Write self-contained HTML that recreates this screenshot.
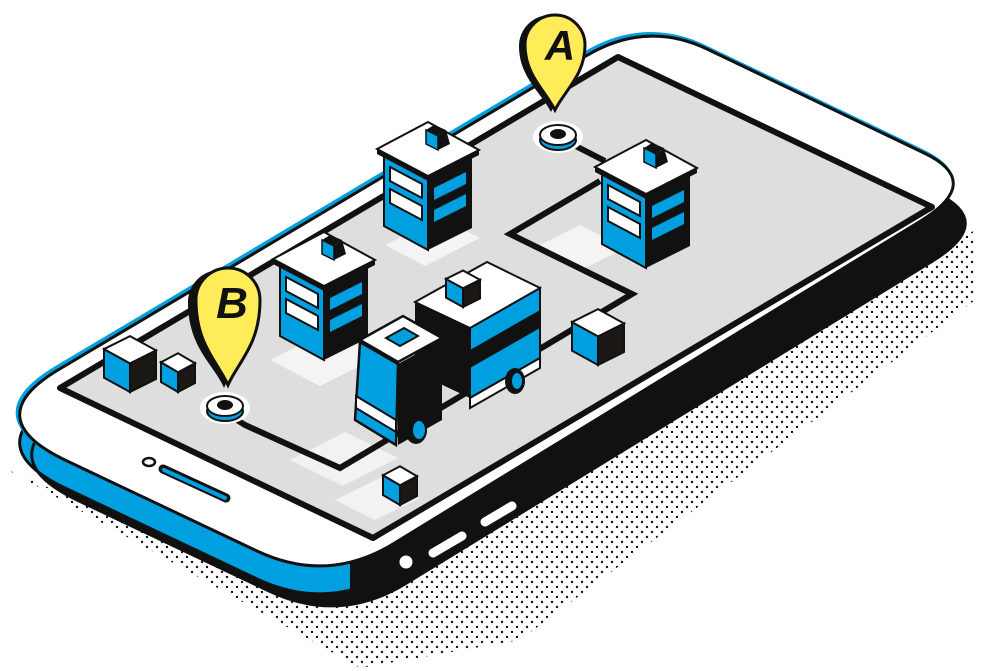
<!DOCTYPE html>
<html><head><meta charset="utf-8"><style>html,body{margin:0;padding:0;background:#fff}svg{display:block}</style></head>
<body>
<svg width="1000" height="671" viewBox="0 0 1000 671" xmlns="http://www.w3.org/2000/svg">
<defs>
<pattern id="dots" width="10" height="10" patternUnits="userSpaceOnUse"><circle cx="2" cy="2" r="1.2" fill="#111"/><circle cx="7" cy="7" r="1.2" fill="#111"/></pattern>
<path id="face" d="M58,370 L586,56 Q646,20 707,49 L924,153 Q985,182 919,222 L393,544 Q327,584 257,551 L65,460 Q-22,418 58,370 Z"/>
<clipPath id="leftc"><rect x="0" y="0" width="350" height="671"/></clipPath>
<g id="bld">
 <polygon points="0,0 -44,-24 -44,-96 0,-72" fill="#009fe0" stroke="#111" stroke-width="2"/>
 <polygon points="0,0 44,-22 44,-94 0,-72" fill="#111"/>
 <polygon points="-38,-83 -6,-66 -6,-52 -38,-69" fill="#fff" stroke="#111" stroke-width="2"/>
 <polygon points="-38,-61 -6,-44 -6,-30 -38,-47" fill="#fff" stroke="#111" stroke-width="2"/>
 <polygon points="6,-62 38,-78 38,-66 6,-50" fill="#009fe0"/>
 <polygon points="6,-40 38,-56 38,-44 6,-28" fill="#009fe0"/>
 <polygon points="0,-74 -51,-101 -51,-96 0,-69 51,-95 51,-100" fill="#111"/>
 <polygon points="0,-74 -51,-101 0,-128 51,-100" fill="#fff" stroke="#111" stroke-width="2"/>
 <polygon points="10,-100 -2,-106 -2,-120 10,-114" fill="#009fe0" stroke="#111" stroke-width="1.5"/>
 <polygon points="10,-100 22,-106 18,-120 10,-114" fill="#111"/>
 <polygon points="10,-114 -2,-120 6,-125 18,-120" fill="#111"/>
</g>
<g id="cube">
 <polygon points="0,0 -1,-0.55 -1,-1.65 0,-1.1" fill="#009fe0" stroke="#111" stroke-width="2" vector-effect="non-scaling-stroke"/>
 <polygon points="0,0 1,-0.5 1,-1.6 0,-1.1" fill="#1a1714" stroke="#111" stroke-width="2" vector-effect="non-scaling-stroke"/>
 <polygon points="0,-1.1 -1,-1.65 0,-2.15 1,-1.6" fill="#fff" stroke="#111" stroke-width="2" vector-effect="non-scaling-stroke"/>
</g>
</defs>

<polygon points="8,470 360,668 520,640 975,300 975,230 330,610" fill="url(#dots)"/>

<use href="#face" transform="translate(12,40)" fill="#111"/>
<g clip-path="url(#leftc)"><use href="#face" transform="translate(0,28)" fill="#009fe0" stroke="#111" stroke-width="3"/></g>
<use href="#face" transform="translate(12,40)" fill="none" stroke="#111" stroke-width="3"/>
<use href="#face" transform="translate(-2,-2)" fill="none" stroke="#009fe0" stroke-width="4"/>
<use href="#face" fill="#fff" stroke="#111" stroke-width="3"/>

<line x1="433" y1="553" x2="462" y2="536" stroke="#111" stroke-width="16" stroke-linecap="round"/>
<line x1="433" y1="553" x2="462" y2="536" stroke="#fff" stroke-width="9" stroke-linecap="round"/>
<line x1="485" y1="522" x2="512" y2="506" stroke="#111" stroke-width="16" stroke-linecap="round"/>
<line x1="485" y1="522" x2="512" y2="506" stroke="#fff" stroke-width="9" stroke-linecap="round"/>
<circle cx="406" cy="562" r="8" fill="#fff" stroke="#111" stroke-width="3"/>

<ellipse cx="149" cy="462" rx="6" ry="4" fill="#fff" stroke="#111" stroke-width="2.5"/>
<line x1="163" y1="469" x2="226" y2="498" stroke="#111" stroke-width="9" stroke-linecap="round"/>
<line x1="164" y1="470" x2="225" y2="498" stroke="#009fe0" stroke-width="4" stroke-linecap="round"/>

<polygon points="618,57 932,207 373,538 60,388" fill="#dedede" stroke="#111" stroke-width="6" stroke-linejoin="round"/>

<polygon points="290,460 345,432 398,458 343,486" fill="#f2f2f2"/>
<polygon points="335,500 380,478 420,498 375,520" fill="#f2f2f2"/>
<polygon points="540,245 580,225 625,248 585,268" fill="#f4f4f4"/>
<polygon points="270,360 330,330 380,356 320,386" fill="#f4f4f4"/>
<polygon points="385,245 440,218 480,238 425,266" fill="#f4f4f4"/>

<polyline points="558,137 605,161" fill="none" stroke="#111" stroke-width="6"/>
<polyline points="600,181 510,234 632,294 340,468 245,425 226,413" fill="none" stroke="#111" stroke-width="6" stroke-linejoin="miter"/>

<ellipse cx="558" cy="137" rx="25" ry="16" fill="#fff"/>
<ellipse cx="558" cy="140" rx="18" ry="10" fill="#009fe0" stroke="#111" stroke-width="2"/>
<ellipse cx="558" cy="135" rx="18" ry="10" fill="#fff" stroke="#111" stroke-width="2"/>
<ellipse cx="558" cy="134" rx="8" ry="5" fill="#111"/>
<ellipse cx="225" cy="408" rx="25" ry="16" fill="#fff"/>
<ellipse cx="225" cy="411" rx="18" ry="10" fill="#009fe0" stroke="#111" stroke-width="2"/>
<ellipse cx="225" cy="406" rx="18" ry="10" fill="#fff" stroke="#111" stroke-width="2"/>
<ellipse cx="225" cy="405" rx="8" ry="5" fill="#111"/>

<use href="#cube" transform="translate(130,392) scale(26,26)"/>
<use href="#cube" transform="translate(178,392) scale(17,18)"/>
<use href="#cube" transform="translate(400,505) scale(17,18)"/>
<use href="#cube" transform="translate(598,365) scale(26,26)"/>

<use href="#bld" transform="translate(428,250)"/>
<use href="#bld" transform="translate(646,268)"/>
<use href="#bld" transform="translate(324,360)"/>

<polygon points="470,328 540,288 540,358 470,398" fill="#009fe0" stroke="#111" stroke-width="2"/>
<polygon points="470,350 540,310 540,328 470,368" fill="#111"/>
<polygon points="415,302 470,328 470,398 415,372" fill="#111"/>
<polygon points="415,302 487,262 540,288 470,328" fill="#fff" stroke="#111" stroke-width="2"/>
<polygon points="470,398 540,358 540,368 470,408" fill="#fff" stroke="#111" stroke-width="2"/>
<use href="#cube" transform="translate(463,307) scale(17,17)"/>
<ellipse cx="515" cy="381" rx="10" ry="13" fill="#111"/>
<ellipse cx="517" cy="381" rx="6" ry="9" fill="#009fe0" stroke="#111" stroke-width="2"/>
<polygon points="398,364 442,340 442,420 398,445" fill="#111"/>
<polygon points="360,342 398,364 396,445 355,420" fill="#009fe0" stroke="#111" stroke-width="2.5"/>
<polygon points="356,396 396,420 396,432 356,408" fill="#fff" stroke="#111" stroke-width="2"/>
<polygon points="360,340 403,316 442,338 398,362" fill="#fff" stroke="#111" stroke-width="2.5"/>
<polygon points="386,338 404,328 418,336 400,346" fill="#009fe0" stroke="#111" stroke-width="2"/>
<ellipse cx="416" cy="430" rx="11" ry="14" fill="#111"/>
<ellipse cx="419" cy="430" rx="7" ry="10" fill="#009fe0" stroke="#111" stroke-width="2"/>

<path d="M551,112 C541,92 519,77 519,46 A31,31 0 1 1 581,46 C581,77 561,92 551,112Z" fill="#111"/>
<path d="M555,110 C545,90 525,75 525,45 A30,30 0 1 1 585,45 C585,75 565,90 555,110Z" fill="#ffec58" stroke="#111" stroke-width="3"/>
<text x="560" y="60" font-family="Liberation Sans, sans-serif" font-size="42" font-weight="bold" font-style="italic" text-anchor="middle" fill="#111">A</text>
<path d="M224,388 C214,364 188,348 188,302 A32,32 0 1 1 252,302 C252,348 234,364 224,388Z" fill="#111"/>
<path d="M228,385 C218,362 196,345 196,300 A32,32 0 1 1 260,300 C260,345 238,362 228,385Z" fill="#ffec58" stroke="#111" stroke-width="3"/>
<text x="232" y="318" font-family="Liberation Sans, sans-serif" font-size="44" font-weight="bold" font-style="italic" text-anchor="middle" fill="#111">B</text>
</svg>
</body></html>
